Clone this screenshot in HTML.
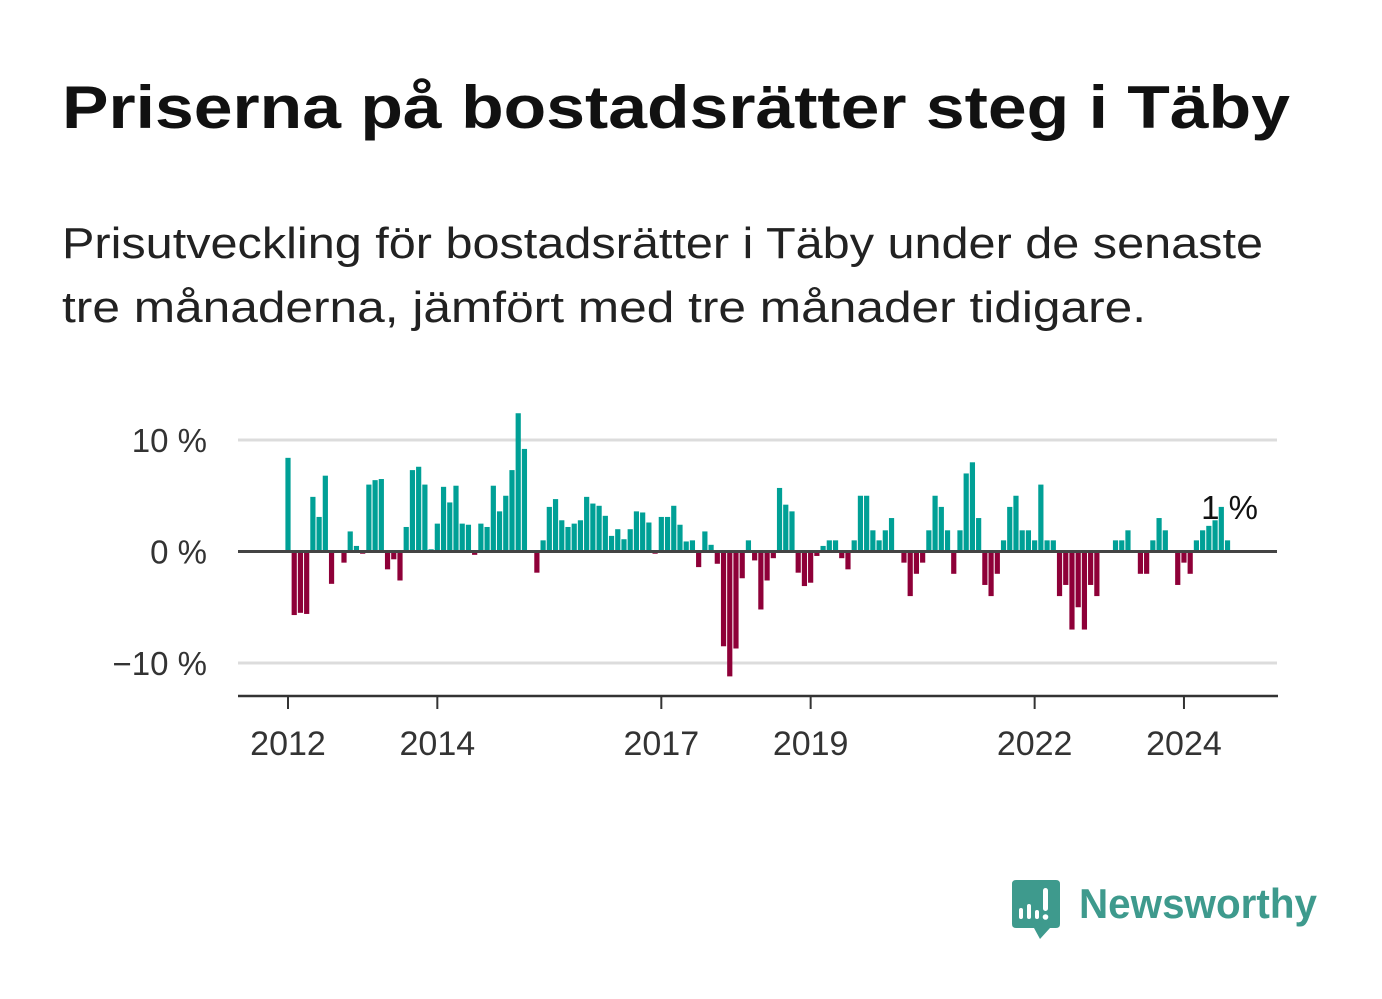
<!DOCTYPE html>
<html><head><meta charset="utf-8"><style>
html,body{margin:0;padding:0;background:#fff;}
svg{display:block;font-family:"Liberation Sans",sans-serif;}
</style></head><body>
<svg id="chart" width="1382" height="999" viewBox="0 0 1382 999" xmlns="http://www.w3.org/2000/svg">
<text x="62" y="128" font-size="60" font-weight="bold" fill="#111" textLength="1228" lengthAdjust="spacingAndGlyphs">Priserna på bostadsrätter steg i Täby</text>
<text x="62" y="258" font-size="44" fill="#222" textLength="1201" lengthAdjust="spacingAndGlyphs">Prisutveckling för bostadsrätter i Täby under de senaste</text>
<text x="62" y="322" font-size="44" fill="#222" textLength="1084" lengthAdjust="spacingAndGlyphs">tre månaderna, jämfört med tre månader tidigare.</text>
<g id="grid"></g>
<g id="bars"></g>
<g id="axes"></g>
<g>
<path d="M1016 880 H1056 Q1060 880 1060 884 V924 Q1060 928 1056 928 H1050 L1040 939 L1034 928 H1016 Q1012 928 1012 924 V884 Q1012 880 1016 880 Z" fill="#3e9a8d"/>
<rect x="1019" y="908" width="4" height="11" rx="2" fill="#fff"/>
<rect x="1027" y="904" width="4" height="15" rx="2" fill="#fff"/>
<rect x="1035" y="910" width="4" height="9" rx="2" fill="#fff"/>
<rect x="1043" y="888" width="5" height="23" rx="2.5" fill="#fff"/>
<circle cx="1045.5" cy="917" r="2.8" fill="#fff"/>
<text x="1079" y="918" font-size="42" font-weight="bold" fill="#3e9a8d" textLength="238" lengthAdjust="spacingAndGlyphs">Newsworthy</text>
</g>
</svg>
<script>
const values = [8.4,-5.7,-5.5,-5.6,4.9,3.1,6.8,-2.9,0,-1.0,1.8,0.5,-0.2,6.0,6.4,6.5,-1.6,-0.7,-2.6,2.2,7.3,7.6,6.0,0.2,
2.5,5.8,4.4,5.9,2.5,2.4,-0.3,2.5,2.2,5.9,3.6,5.0,7.3,12.4,9.2,0,-1.9,1.0,4.0,4.7,2.8,2.2,2.5,2.8,
4.9,4.3,4.1,3.2,1.4,2.0,1.1,2.0,3.6,3.5,2.6,-0.2,3.1,3.1,4.1,2.4,0.9,1.0,-1.4,1.8,0.6,-1.1,-8.5,-11.2,
-8.7,-2.4,1.0,-0.8,-5.2,-2.6,-0.6,5.7,4.2,3.6,-1.9,-3.1,-2.8,-0.4,0.5,1.0,1.0,-0.6,-1.6,1.0,5.0,5.0,1.9,1.0,
1.9,3.0,0,-1.0,-4.0,-2.0,-1.0,1.9,5.0,4.0,1.9,-2.0,1.9,7.0,8.0,3.0,-3.0,-4.0,-2.0,1.0,4.0,5.0,1.9,1.9,
1.0,6.0,1.0,1.0,-4.0,-3.0,-7.0,-5.0,-7.0,-3.0,-4.0,0,0,1.0,1.0,1.9,0,-2.0,-2.0,1.0,3.0,1.9,0,-3.0,
-1.0,-2.0,1.0,1.9,2.3,2.8,4.0,1.0];
const yTicks = [10,0,-10];
const yTickLabels = ["10 %","0 %","\u221210 %"];
const xTickYears = [2012,2014,2017,2019,2022,2024];
const lastLabel = "1 %";
const startYear = 2012;

const NS="http://www.w3.org/2000/svg";
const X0=288, STEP=6.222, Y0=551.5, PPU=11.15;
const x = i => X0 + i*STEP;
const y = v => Y0 - v*PPU;
const xYear = yr => x((yr-startYear)*12);
function mk(tag, attrs, parent){const e=document.createElementNS(NS,tag);for(const k in attrs)e.setAttribute(k,attrs[k]);parent.appendChild(e);return e;}
const grid=document.getElementById('grid'), bars=document.getElementById('bars'), axes=document.getElementById('axes');
yTicks.forEach((t,j)=>{
  if(t!==0){
    const l=mk('line',{x1:238,x2:1277,y1:y(t),y2:y(t),stroke:'#dcdcdc','stroke-width':3},grid);
    
    
  }
  const tx=mk('text',{x:207,y:y(t)+12,'text-anchor':'end','font-size':33,fill:'#333'},axes);
  tx.textContent=yTickLabels[j];
  
  
});
values.forEach((v,i)=>{
  const r=mk('rect',{x:x(i)-2.6,width:5.2,y:Math.min(y(v),Y0),height:Math.abs(y(v)-Y0),fill:v>=0?'#00a096':'#8e0038'},bars);
  
  
});
const zl=mk('line',{x1:238,x2:1277,y1:Y0,y2:Y0,stroke:'#444','stroke-width':3},axes);


const xl=mk('line',{x1:238,x2:1278,y1:696,y2:696,stroke:'#333','stroke-width':2.5},axes);


xTickYears.forEach(yr=>{
  const t=mk('line',{x1:xYear(yr),x2:xYear(yr),y1:696,y2:709,stroke:'#333','stroke-width':2},axes);
  
  
  const tx=mk('text',{x:xYear(yr),y:755,'text-anchor':'middle','font-size':34,fill:'#333'},axes);
  tx.textContent=String(yr);
  
  
});
const li=values.length-1;
const lab=mk('text',{x:x(li)+2,y:519,'text-anchor':'middle','font-size':33,fill:'#111'},axes);
lab.textContent=lastLabel;


</script>
</body></html>
